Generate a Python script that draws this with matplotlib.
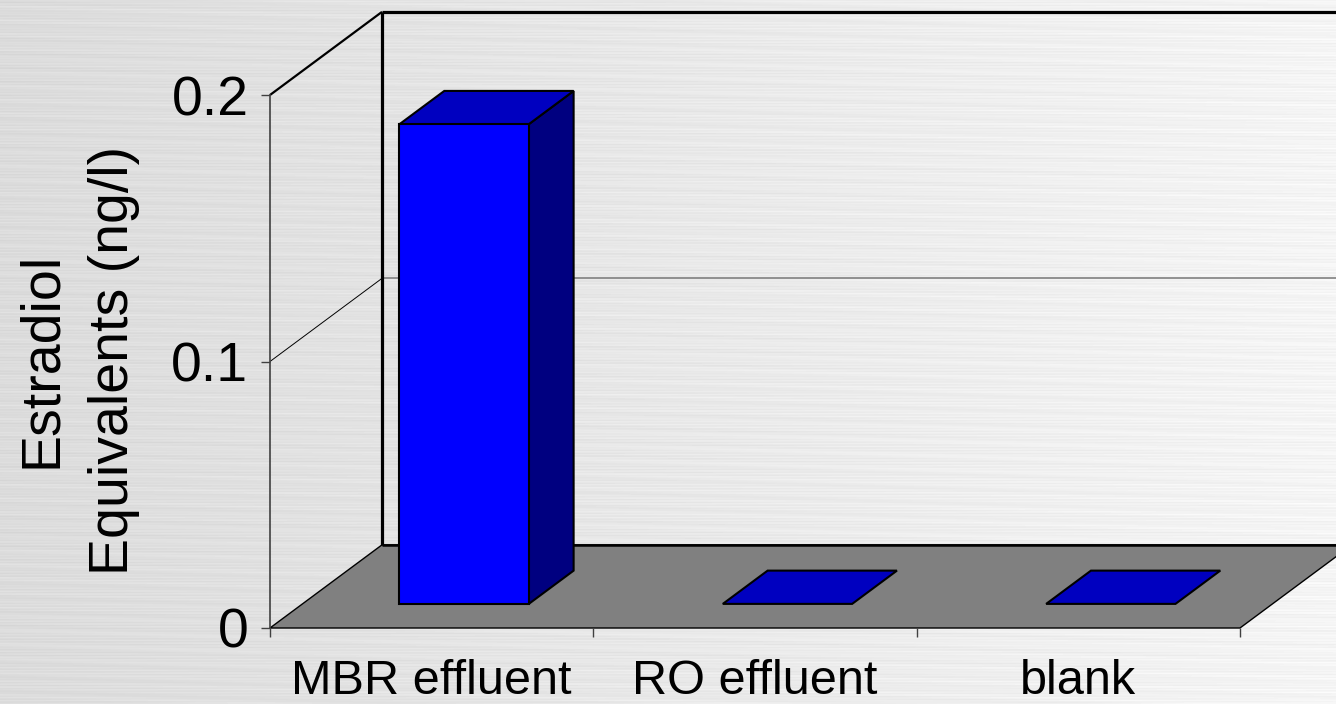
import numpy as np
import matplotlib.pyplot as plt
from matplotlib.patches import Polygon

categories = ['MBR effluent', 'RO effluent', 'blank']
values = [0.18, 0.0, 0.0]
y_ticks = [0, 0.1, 0.2]
y_tick_labels = ['0', '0.1', '0.2']
y_label = 'Estradiol\nEquivalents (ng/l)'

plt.rcParams['font.family'] = ['Liberation Sans', 'DejaVu Sans']

W, H = 1336, 704
fig = plt.figure(figsize=(W / 100, H / 100), dpi=100)

# brushed-metal style backdrop: light grey, brighter to the right, with horizontal streaks
bg = fig.add_axes([0, 0, 1, 1], zorder=-10)
rows = np.arange(H)[:, None]
cols = np.arange(W)[None, :]
shade = 0.86 + 0.10 * cols / W
streaks = (0.010 * np.sin(rows * 2.3)
           + 0.014 * np.sin(rows * 0.71 + cols / 85.0) * np.sin(rows * 5.1)
           + 0.007 * np.sin(rows * 11.7 + cols / 37.0))
bg.imshow(np.clip(shade + streaks, 0, 1), cmap='gray', vmin=0, vmax=1,
          aspect='auto', interpolation='bilinear')
bg.axis('off')

# front plane of the 3-D box
ax = fig.add_axes([270 / W, 76 / H, 970 / W, 533 / H])
ax.set_xlim(0, len(categories))
ax.set_ylim(0, 0.2)
ax.patch.set_visible(False)

# oblique depth vector (category units, value units)
DX = 0.3464
DY = 0.0312


def proj(x, v, d):
    return (x + d * DX, v + d * DY)


def poly(pts, fc, ec='black', lw=1.5, z=2):
    ax.add_patch(Polygon([proj(*p) for p in pts], closed=True, facecolor=fc,
                         edgecolor=ec, linewidth=lw, joinstyle='miter',
                         clip_on=False, zorder=z))


def line(p0, p1, color='black', lw=1.0, z=1.5):
    a, b = proj(*p0), proj(*p1)
    ax.plot([a[0], b[0]], [a[1], b[1]], color=color, lw=lw,
            solid_capstyle='butt', clip_on=False, zorder=z)


ncat = len(categories)
ymax = y_ticks[-1]

# floor
poly([(0, 0, 0), (ncat, 0, 0), (ncat, 0, 1), (0, 0, 1)], '#808080', lw=1.0, z=1)
line((0, 0, 1), (ncat, 0, 1), lw=1.8, z=1.2)

# walls: edges and gridlines
for t in y_ticks[1:-1]:
    line((0, t, 0), (0, t, 1), lw=0.7)
    line((0, t, 1), (ncat, t, 1), color='#808080', lw=1.2)
line((0, ymax, 0), (0, ymax, 1), lw=1.6)
line((0, ymax, 1), (ncat, ymax, 1), lw=2.3)
line((0, 0, 1), (0, ymax, 1), lw=2.3)

# bars
half_w = 0.20
d0, d1 = 0.29, 0.69
for i, v in enumerate(values):
    xc = i + 0.5
    x0, x1 = xc - half_w, xc + half_w
    if v > 0:
        poly([(x1, 0, d0), (x1, 0, d1), (x1, v, d1), (x1, v, d0)], '#000080', z=3)
        poly([(x0, 0, d0), (x1, 0, d0), (x1, v, d0), (x0, v, d0)], '#0000FF', z=3.2)
    poly([(x0, v, d0), (x1, v, d0), (x1, v, d1), (x0, v, d1)], '#0000C0', z=3.1)

# axes, ticks and labels
for side in ['top', 'right', 'bottom']:
    ax.spines[side].set_visible(False)
ax.spines['left'].set_color('#404040')
ax.spines['left'].set_linewidth(1.2)

ax.set_yticks(y_ticks, y_tick_labels)
ax.tick_params(axis='y', length=6.5, width=1.0, color='#404040', pad=9,
               labelsize=40)

ax.set_xticks(np.arange(ncat + 1))
ax.set_xticklabels([])
ax.set_xticks(np.arange(ncat) + 0.5, categories, minor=True)
ax.tick_params(axis='x', which='major', length=6.5, width=1.0, color='#404040')
ax.tick_params(axis='x', which='minor', length=0, pad=22, labelsize=35)

fig.text(78 / W, 1 - 360 / H, y_label, rotation=90, ha='center', va='center',
         multialignment='center', fontsize=40, linespacing=1.5)

fig.savefig('out.png', dpi=100)
